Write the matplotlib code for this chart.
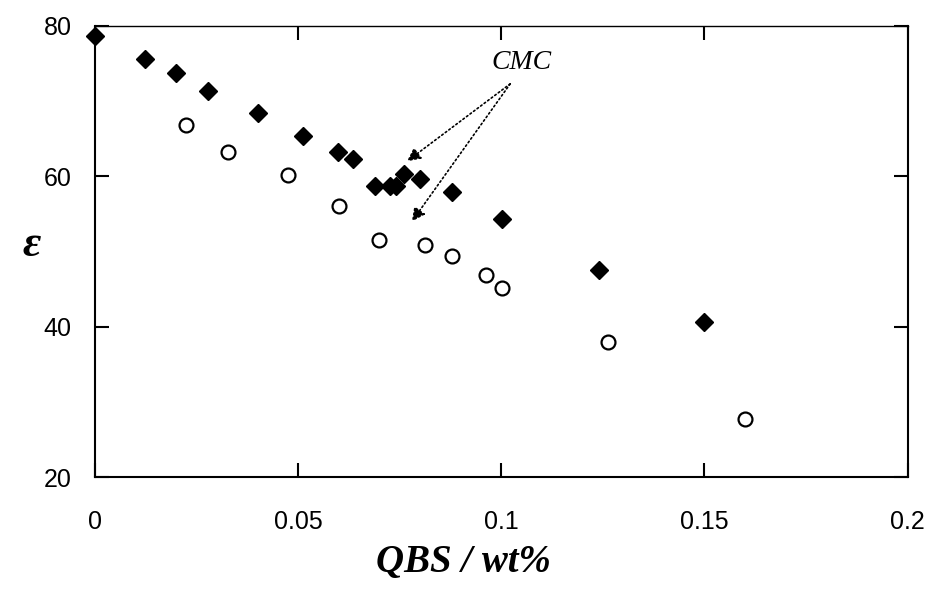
import matplotlib
matplotlib.use('Agg')
import matplotlib.pyplot as plt

matplotlib.rcParams['font.family'] = ['Liberation Sans', 'DejaVu Sans']

# filled diamonds
x_filled = [0.0, 0.0123, 0.020, 0.0277, 0.040, 0.0511, 0.0599, 0.0635, 0.0688,
            0.0725, 0.0741, 0.0761, 0.080, 0.0879, 0.1002, 0.124, 0.150]
y_filled = [78.6, 75.6, 73.7, 71.4, 68.4, 65.4, 63.2, 62.3, 58.7,
            58.7, 58.7, 60.3, 59.6, 57.9, 54.3, 47.6, 40.6]

# open circles
x_open = [0.0223, 0.0328, 0.0474, 0.060, 0.070, 0.0813, 0.0879, 0.0962, 0.1002, 0.1263, 0.160]
y_open = [66.8, 63.2, 60.2, 56.0, 51.5, 50.8, 49.4, 46.9, 45.2, 37.9, 27.7]

xticks = [0, 0.05, 0.1, 0.15, 0.2]
xtick_labels = ['0', '0.05', '0.1', '0.15', '0.2']
yticks = [20, 40, 60, 80]

cmc_text = (0.1051, 75.2)
cmc_tail = (0.1022, 72.3)
cmc_tips = [(0.0768, 62.0), (0.078, 54.0)]

fig = plt.figure(figsize=(9.27, 5.90), dpi=100)
ax = fig.add_axes([0.1025, 0.1915, 0.8765, 0.7645])

ax.plot(x_filled, y_filled, 'D', color='black', markersize=9, clip_on=False)
ax.plot(x_open, y_open, 'o', markerfacecolor='white', markeredgecolor='black',
        markeredgewidth=1.6, markersize=10, clip_on=False)

ax.set_xlim(0, 0.2)
ax.set_ylim(20, 80)
ax.set_xticks(xticks)
ax.set_xticklabels(xtick_labels)
ax.set_yticks(yticks)

ax.tick_params(direction='in', length=10, width=1.5, top=True, right=True,
               labelsize=18, pad=24)
ax.tick_params(axis='y', pad=17)
for s in ax.spines.values():
    s.set_linewidth(1.5)
ax.spines['top'].set_linewidth(1.0)

ax.text(cmc_text[0], cmc_text[1], 'CMC', fontsize=20, style='italic',
        family='Liberation Serif', ha='center', va='center')
for tip in cmc_tips:
    ax.annotate('', xy=tip, xytext=cmc_tail,
                arrowprops=dict(arrowstyle='-|>', linestyle=':', color='black',
                                lw=1.2, mutation_scale=20, shrinkA=0, shrinkB=0))

ax.set_xlabel('QBS / wt%', fontsize=28, family='Liberation Serif',
              style='italic', weight='bold')
ax.xaxis.set_label_coords(0.453, -0.19)
ax.xaxis.label.set_va('center')
ax.set_ylabel('ε', fontsize=32, family='Liberation Serif',
              style='italic', weight='bold', rotation=0)
ax.yaxis.set_label_coords(-0.078, 0.514)
ax.yaxis.label.set_va('center')
ax.yaxis.label.set_ha('center')

fig.savefig('out.png', dpi=100)
